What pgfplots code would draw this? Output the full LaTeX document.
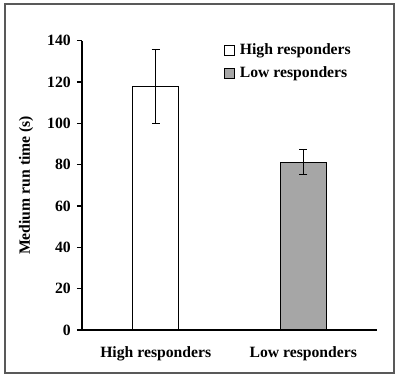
\documentclass[border=0pt]{standalone}
\usepackage{pgfplots}
\pgfplotsset{compat=1.18}
\usepackage{fontspec}
\setmainfont{Liberation Serif}
\definecolor{lowgray}{HTML}{A6A6A6}
\begin{document}
\fontsize{15.7bp}{19bp}\selectfont\bfseries
\begin{tikzpicture}
\begin{axis}[
  scale only axis, width=295bp, height=289.3bp,
  xmin=-0.5, xmax=1.5, ymin=0, ymax=140,
  axis x line*=bottom, axis y line*=left,
  axis line style={line width=1.3bp},
  xtick={0,1}, xticklabels={High responders, Low responders},
  major x tick style={draw=none},
  ytick={0,20,...,140}, tick align=outside, major tick length=5bp,
  major y tick style={line width=1.3bp, black},
  /pgf/number format/assume math mode=true,
  ticklabel style={font=\fontsize{15.7bp}{19bp}\selectfont\bfseries},
  yticklabel style={anchor=east, inner sep=0pt, xshift=-6bp},
  xticklabel style={anchor=north, inner sep=0pt, yshift=-11bp},
  ylabel={Medium run time (s)},
  ylabel style={at={(axis description cs:0,0.5)}, anchor=center, yshift=56bp, font=\fontsize{15.7bp}{19bp}\selectfont\bfseries},
  legend image code/.code={\draw[#1, line width=1.2bp] (0bp,-5bp) rectangle (10bp,5bp); \path (13bp,0bp);},
  legend style={draw=none, fill=none, at={(rel axis cs:0.481,0.995)}, anchor=north west,
    inner sep=0pt, row sep=7bp, nodes={inner sep=1.5bp}, font=\fontsize{15.7bp}{19bp}\selectfont\bfseries},
  legend cell align=left,
]
\addplot[ybar, bar shift=0pt, bar width=46bp, fill=white, draw=black, line width=1.3bp,
  error bars/.cd, y dir=both, y explicit,
  error bar style={line width=1.3bp, black},
  error mark options={rotate=90, mark size=4bp, line width=1.3bp, black}]
  coordinates {(0,117.9) +- (0,17.9)};
\addlegendentry{High responders}
\addplot[ybar, bar shift=0pt, bar width=46bp, fill=lowgray, draw=black, line width=1.3bp,
  error bars/.cd, y dir=both, y explicit,
  error bar style={line width=1.3bp, black},
  error mark options={rotate=90, mark size=4bp, line width=1.3bp, black}]
  coordinates {(1,81.2) +- (0,6.1)};
\addlegendentry{Low responders}
\end{axis}
\draw[line width=1.5bp, black!65] (-77bp,-43bp) rectangle (312bp,326bp);
\pgfresetboundingbox
\useasboundingbox (-82bp,-47bp) rectangle (317bp,330bp);
\end{tikzpicture}
\end{document}
